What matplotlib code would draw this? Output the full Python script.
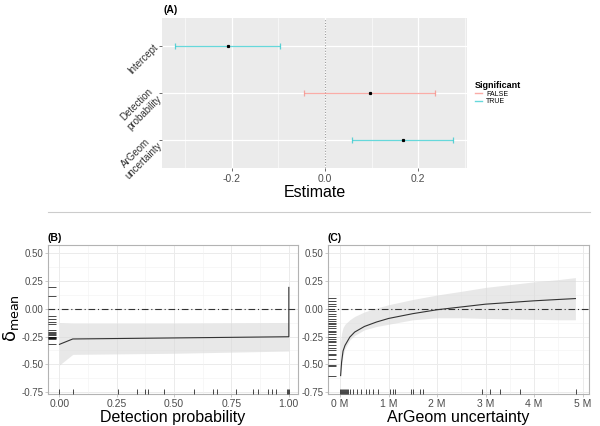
import matplotlib
matplotlib.use("Agg")
import matplotlib.pyplot as plt
import numpy as np
from matplotlib.lines import Line2D

plt.rcParams['font.family'] = ['Liberation Sans', 'DejaVu Sans']

# ---------------- Data ----------------
# Panel A: coefficient estimates
terms = ["Intercept", "Detection\nprobability", "ArGeom\nuncertainty"]
estimates = [-0.208, 0.097, 0.168]
ci_low = [-0.322, -0.045, 0.058]
ci_high = [-0.097, 0.237, 0.275]
significant = [True, False, True]

# Panel B: Detection probability effect
det_x = [0.0, 0.058, 1.0, 1.0]
det_y = [-0.32, -0.272, -0.252, 0.19]
det_band_x = [0.0, 0.058, 0.5, 1.0]
det_band_lo = [-0.505, -0.41, -0.40, -0.38]
det_band_hi = [-0.125, -0.13, -0.13, -0.125]
det_rug_x = [0.0, 0.058, 0.255, 0.34, 0.374, 0.388, 0.457, 0.588, 0.671, 0.685,
             0.768, 0.845, 0.867, 0.91, 0.927, 0.942, 0.994, 0.998, 1.0]
det_rug_y = [0.19, 0.117, -0.07, -0.096, -0.118, -0.14, -0.195, -0.21, -0.22,
             -0.23, -0.24, -0.25, -0.255, -0.26, -0.265, -0.27, -0.316]

# Panel C: ArGeom uncertainty effect (in millions)
arg_x = [0.01, 0.03, 0.06, 0.1, 0.2, 0.3, 0.5, 0.75, 1.0, 1.5, 2.0, 2.5, 3.0, 3.5, 4.0, 4.5, 4.85]
arg_y = [-0.60, -0.48, -0.38, -0.33, -0.255, -0.21, -0.16, -0.12, -0.088, -0.045,
         -0.01, 0.015, 0.04, 0.055, 0.07, 0.082, 0.09]
arg_hi = [-0.30, -0.22, -0.17, -0.14, -0.10, -0.07, -0.03, 0.005, 0.035, 0.082,
          0.122, 0.155, 0.19, 0.215, 0.24, 0.26, 0.278]
arg_lo = [-0.62, -0.52, -0.42, -0.36, -0.28, -0.24, -0.19, -0.16, -0.14, -0.10,
          -0.082, -0.082, -0.088, -0.092, -0.096, -0.10, -0.10]
arg_rug_x = [0.0, 0.02, 0.04, 0.06, 0.08, 0.1, 0.12, 0.14, 0.17, 0.2, 0.27, 0.34,
             0.43, 0.54, 0.6, 0.67, 0.79, 1.02, 1.09, 1.14, 1.47, 1.5, 1.64, 1.71,
             2.92, 3.08, 3.3, 3.7, 4.87]
arg_rug_y = [0.094, 0.064, 0.044, 0.026, -0.023, -0.044, -0.067, -0.096, -0.111,
             -0.126, -0.14, -0.155, -0.178, -0.199, -0.213, -0.228, -0.257, -0.272,
             -0.286, -0.301, -0.33, -0.354, -0.374, -0.403, -0.418, -0.447, -0.506,
             -0.512, -0.608]

# ---------------- Figure ----------------
fig = plt.figure(figsize=(6.0, 4.26), dpi=100)
W, H = 600, 426

def ax_rect(l, r, t, b):
    return [l / W, (H - b) / H, (r - l) / W, (b - t) / H]

TRUE_C = "#00BFC4"
FALSE_C = "#F8766D"
TXT = "#4D4D4D"

# ---- Panel A ----
axA = fig.add_axes(ax_rect(162, 467, 18, 168))
axA.set_facecolor("#EBEBEB")
ypos = [2, 1, 0]
axA.set_xlim(-0.35, 0.305)
axA.set_ylim(-0.6, 2.6)
for v in [-0.3, -0.1, 0.1, 0.3]:
    axA.axvline(v, color="white", lw=0.4, zorder=0)
for v in [-0.2, 0.0, 0.2]:
    axA.axvline(v, color="white", lw=0.9, zorder=0)
for y in ypos:
    axA.axhline(y, color="white", lw=0.9, zorder=0)
axA.axvline(0, color="#9A9A9A", lw=0.8, ls=(0, (1, 1.5)), zorder=1)
for y, e, lo, hi, s in zip(ypos, estimates, ci_low, ci_high, significant):
    c = TRUE_C if s else FALSE_C
    axA.errorbar([e], [y], xerr=[[e - lo], [hi - e]], fmt="none", ecolor=c,
                 alpha=0.6, elinewidth=0.9, capsize=2.5, capthick=0.9, zorder=2)
    axA.plot([e], [y], "s", color="black", ms=1.3, zorder=3)
axA.set_yticks(ypos)
axA.set_yticklabels(terms, rotation=45, ha="right", va="center",
                    rotation_mode="anchor", fontsize=7, color="#333333",
                    multialignment="center")
axA.set_xticks([-0.2, 0.0, 0.2])
axA.set_xticklabels(["-0.2", "0.0", "0.2"], fontsize=7.5, color=TXT)
axA.tick_params(axis="both", length=2, color="#333333", width=0.5, pad=2)
for sp in axA.spines.values():
    sp.set_visible(False)
axA.set_xlabel("Estimate", fontsize=11.5, labelpad=1)
fig.text(163 / W, 1 - 10 / H, "(A)", fontsize=7.5, fontweight="bold", va="center")

# Legend
legend_handles = [Line2D([0], [0], color=FALSE_C, alpha=0.6, lw=1),
                  Line2D([0], [0], color=TRUE_C, alpha=0.6, lw=1)]
leg = fig.legend(legend_handles, ["FALSE", "TRUE"], title="Significant",
                 loc="upper left", bbox_to_anchor=(470 / W, 1 - 76 / H),
                 frameon=False, fontsize=5, title_fontsize=6.5,
                 handlelength=1.0, handletextpad=0.6, labelspacing=0.1,
                 borderpad=0.2)
leg.get_title().set_fontweight("bold")
leg._legend_box.align = "left"

# Separator line
fig.add_artist(Line2D([48 / W, 590 / W], [1 - 212 / H, 1 - 212 / H],
                      color="#CCCCCC", lw=0.8))

def style_bottom(ax):
    ax.set_facecolor("white")
    ax.set_ylim(-0.765, 0.57)
    ax.set_yticks([0.5, 0.25, 0.0, -0.25, -0.5, -0.75])
    ax.set_yticklabels(["0.50", "0.25", "0.00", "-0.25", "-0.50", "-0.75"],
                       fontsize=7, color=TXT)
    for v in [0.375, 0.125, -0.125, -0.375, -0.625]:
        ax.axhline(v, color="#F2F2F2", lw=0.4, zorder=0)
    for v in [0.5, 0.25, 0.0, -0.25, -0.5, -0.75]:
        ax.axhline(v, color="#EBEBEB", lw=0.7, zorder=0)
    for sp in ax.spines.values():
        sp.set_color("#B3B3B3")
        sp.set_linewidth(0.8)
    ax.tick_params(axis="both", length=2, color="#B3B3B3", width=0.5, pad=1.5)
    ax.axhline(0, color="#333333", lw=0.8, ls=(0, (6, 2.5, 1, 2.5)), zorder=3)

def rugs(ax, xs, ys):
    tr_x = ax.get_xaxis_transform()
    tr_y = ax.get_yaxis_transform()
    for x in xs:
        ax.plot([x, x], [0, 0.035], transform=tr_x, color="black", lw=0.5,
                zorder=4, clip_on=False, solid_capstyle="butt")
    for y in ys:
        ax.plot([0, 0.03], [y, y], transform=tr_y, color="black", lw=0.5,
                zorder=4, clip_on=False, solid_capstyle="butt")

# ---- Panel B ----
axB = fig.add_axes(ax_rect(48, 298, 245, 394))
style_bottom(axB)
axB.set_xlim(-0.05, 1.04)
for v in [0.125, 0.375, 0.625, 0.875]:
    axB.axvline(v, color="#F2F2F2", lw=0.4, zorder=0)
for v in [0, 0.25, 0.5, 0.75, 1.0]:
    axB.axvline(v, color="#EBEBEB", lw=0.7, zorder=0)
axB.fill_between(det_band_x, det_band_lo, det_band_hi, color="#D9D9D9",
                 alpha=0.6, lw=0, zorder=1)
axB.plot(det_x, det_y, color="#333333", lw=0.8, zorder=5)
rugs(axB, det_rug_x, det_rug_y)
axB.set_xticks([0, 0.25, 0.5, 0.75, 1.0])
axB.set_xticklabels(["0.00", "0.25", "0.50", "0.75", "1.00"], fontsize=7.5, color=TXT)
axB.set_xlabel("Detection probability", fontsize=11.5, labelpad=1)
fig.text(11 / W, 1 - 318 / H, "δ$_{\\mathrm{mean}}$", fontsize=13, rotation=90,
         ha="center", va="center", family=["DejaVu Sans"])
fig.text(48 / W, 1 - 238 / H, "(B)", fontsize=7.5, fontweight="bold", va="center")

# ---- Panel C ----
axC = fig.add_axes(ax_rect(328, 589, 245, 394))
style_bottom(axC)
axC.set_xlim(-0.25, 5.13)
for v in [0.5, 1.5, 2.5, 3.5, 4.5]:
    axC.axvline(v, color="#F2F2F2", lw=0.4, zorder=0)
for v in [0, 1, 2, 3, 4, 5]:
    axC.axvline(v, color="#EBEBEB", lw=0.7, zorder=0)
axC.fill_between(arg_x, arg_lo, arg_hi, color="#D9D9D9", alpha=0.6, lw=0, zorder=1)
axC.plot(arg_x, arg_y, color="#333333", lw=0.8, zorder=5)
rugs(axC, arg_rug_x, arg_rug_y)
axC.set_xticks([0, 1, 2, 3, 4, 5])
axC.set_xticklabels(["0 M", "1 M", "2 M", "3 M", "4 M", "5 M"], fontsize=7.5, color=TXT)
axC.set_xlabel("ArGeom uncertainty", fontsize=11.5, labelpad=1)
fig.text(328 / W, 1 - 238 / H, "(C)", fontsize=7.5, fontweight="bold", va="center")

fig.savefig("out.png", dpi=100)
